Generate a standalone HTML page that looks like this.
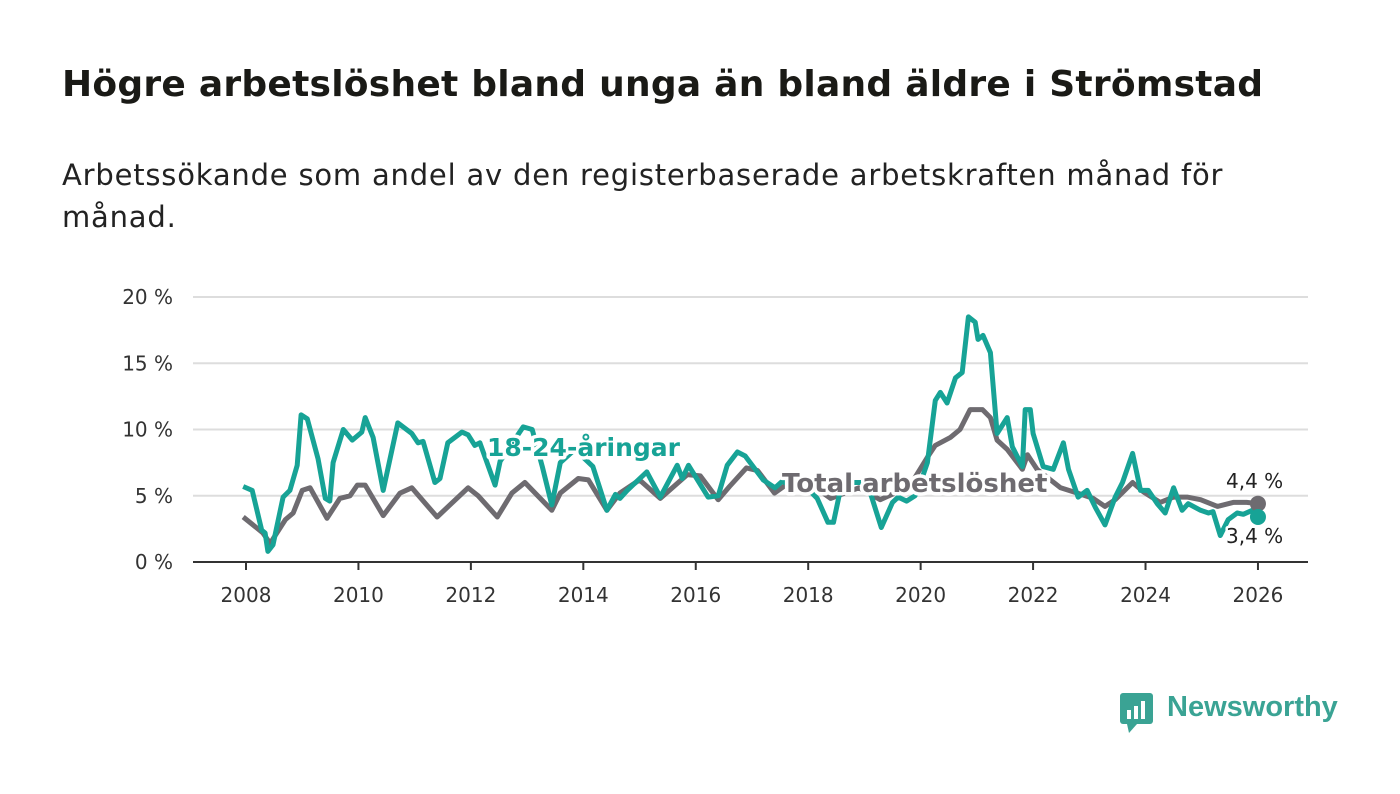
<!DOCTYPE html>
<html><head><meta charset="utf-8"><style>
body{margin:0;background:#fff;width:1400px;height:794px;overflow:hidden;font-family:"DejaVu Sans","Liberation Sans",sans-serif}
.t{position:absolute;left:62px;top:64px;font-size:36px;font-weight:bold;color:#1a1a16;margin:0;white-space:nowrap;letter-spacing:0.25px}
.s{position:absolute;left:62px;top:154px;font-size:29px;line-height:42px;color:#222;width:1300px;margin:0;white-space:nowrap;letter-spacing:0.8px}
</style></head><body>
<h1 class="t">Högre arbetslöshet bland unga än bland äldre i Strömstad</h1>
<p class="s">Arbetssökande som andel av den registerbaserade arbetskraften månad för<br>månad.</p>
<svg id="c" width="1400" height="794" style="position:absolute;left:0;top:0"></svg>
<script>
const yTicks=[0,5,10,15,20];
const xTicks=[2008,2010,2012,2014,2016,2018,2020,2022,2024,2026];
const youthDates=[2007.95,2008.11,2008.28,2008.34,2008.39,2008.48,2008.66,2008.78,2008.91,2008.98,2009.09,2009.28,2009.41,2009.49,2009.55,2009.73,2009.89,2010.06,2010.12,2010.26,2010.44,2010.7,2010.95,2011.06,2011.15,2011.36,2011.45,2011.59,2011.84,2011.95,2012.07,2012.16,2012.43,2012.52,2012.93,2013.09,2013.27,2013.44,2013.59,2013.85,2014.17,2014.42,2014.57,2014.65,2014.78,2015.13,2015.37,2015.67,2015.76,2015.87,2016.22,2016.4,2016.56,2016.74,2016.88,2017.2,2017.41,2017.54,2017.8,2018.0,2018.16,2018.35,2018.45,2018.6,2019.0,2019.1,2019.3,2019.5,2019.6,2019.75,2019.9,2020.0,2020.12,2020.26,2020.35,2020.47,2020.62,2020.74,2020.85,2020.97,2021.02,2021.11,2021.24,2021.36,2021.54,2021.63,2021.81,2021.86,2021.95,2022.0,2022.18,2022.36,2022.54,2022.63,2022.8,2022.96,2023.11,2023.28,2023.46,2023.59,2023.77,2023.91,2024.05,2024.21,2024.35,2024.5,2024.65,2024.76,2024.98,2025.12,2025.2,2025.33,2025.47,2025.63,2025.74,2025.9,2026.0];
const youthValues=[5.7,5.4,2.4,2.2,0.8,1.3,4.9,5.4,7.3,11.1,10.8,7.8,4.8,4.6,7.5,10.0,9.2,9.8,10.9,9.4,5.4,10.5,9.7,9.0,9.1,6.0,6.3,9.0,9.8,9.6,8.8,9.0,5.8,7.6,10.2,10.0,7.2,4.3,7.5,8.5,7.2,3.9,5.1,4.8,5.4,6.8,4.9,7.3,6.3,7.3,4.9,5.0,7.3,8.3,8.0,6.2,5.6,6.1,5.5,5.5,4.8,3.0,3.0,6.0,6.0,5.3,2.6,4.5,4.9,4.6,5.0,6.0,7.5,12.2,12.8,12.0,13.9,14.3,18.5,18.1,16.8,17.1,15.8,9.7,10.9,8.7,7.2,11.5,11.5,9.7,7.2,7.0,9.0,7.0,4.9,5.4,4.1,2.8,4.9,6.0,8.2,5.4,5.4,4.4,3.7,5.6,3.9,4.4,3.9,3.7,3.8,2.0,3.2,3.7,3.6,3.9,3.4];
const totalDates=[2007.95,2008.3,2008.43,2008.52,2008.7,2008.84,2009.0,2009.14,2009.44,2009.67,2009.85,2009.98,2010.12,2010.44,2010.74,2010.95,2011.4,2011.75,2011.95,2012.13,2012.47,2012.73,2012.96,2013.44,2013.59,2013.91,2014.09,2014.42,2014.65,2015.0,2015.37,2015.85,2016.08,2016.4,2016.6,2016.9,2017.1,2017.4,2017.6,2018.0,2018.4,2018.9,2019.28,2019.8,2020.12,2020.26,2020.53,2020.7,2020.88,2021.1,2021.24,2021.36,2021.54,2021.81,2021.9,2022.07,2022.49,2022.79,2023.07,2023.28,2023.46,2023.77,2023.96,2024.26,2024.5,2024.74,2024.98,2025.28,2025.56,2025.8,2026.0];
const totalValues=[3.4,2.2,1.4,2.0,3.2,3.7,5.4,5.6,3.3,4.8,5.0,5.8,5.8,3.5,5.2,5.6,3.4,4.8,5.6,5.0,3.4,5.2,6.0,3.9,5.2,6.3,6.2,3.9,5.2,6.2,4.8,6.6,6.5,4.7,5.7,7.1,6.9,5.2,5.8,6.0,4.8,5.6,4.7,5.7,7.9,8.8,9.4,10.0,11.5,11.5,10.9,9.2,8.5,7.0,8.1,7.0,5.6,5.2,4.8,4.2,4.7,6.0,5.3,4.5,4.9,4.9,4.7,4.2,4.5,4.5,4.4];
const NS='http://www.w3.org/2000/svg';
const svg=document.getElementById('c');
const X=y=>246+(y-2008)*56.22;
const Y=v=>562-v*13.25;
function el(t,a,p){const e=document.createElementNS(NS,t);for(const k in a)e.setAttribute(k,a[k]);(p||svg).appendChild(e);return e;}
yTicks.forEach(v=>{
 const g=el('line',{x1:193,x2:1308,y1:Y(v),y2:Y(v),stroke:'#ddd','stroke-width':2});
 
 
 const t=el('text',{x:173,y:Y(v)+7,'text-anchor':'end','font-size':20,fill:'#333'});
 t.textContent=v+' %';
 
 
});
const ax=el('line',{x1:193,x2:1308,y1:562,y2:562,stroke:'#333','stroke-width':2});


xTicks.forEach(v=>{
 const tk=el('line',{x1:X(v),x2:X(v),y1:562,y2:570,stroke:'#333','stroke-width':2});
 
 
 const t=el('text',{x:X(v),y:602,'text-anchor':'middle','font-size':20,fill:'#333'});
 t.textContent=v;
 
 
});
function line(d,v,c,name){
 const p=el('path',{d:d.map((x,i)=>(i?'L':'M')+X(x).toFixed(1)+','+Y(v[i]).toFixed(1)).join(''),fill:'none',stroke:c,'stroke-width':5,'stroke-linejoin':'round'});
 
 
}
line(totalDates,totalValues,'#6e6b70','total-line');
line(youthDates,youthValues,'#17a396','youth-line');
function lab(txt,x,y,c,size,name,bold){
 const t=el('text',{x:x,y:y,fill:c,'font-size':size,'font-weight':bold?'bold':'normal',stroke:'#fff','stroke-width':bold?7:5,'paint-order':'stroke','stroke-linejoin':'round'});
 t.textContent=txt;
 
 
}
lab('18-24-åringar',487,456,'#17a396',25,'youth-series-label',true);
lab('Total arbetslöshet',782,492,'#6e6b70',26,'total-series-label',true);
const tl=totalValues.length-1, yl=youthValues.length-1;
const d1=el('circle',{cx:X(totalDates[tl]),cy:Y(totalValues[tl]),r:8,fill:'#6e6b70'});


const d2=el('circle',{cx:X(youthDates[yl]),cy:Y(youthValues[yl]),r:8,fill:'#17a396'});


lab(String(totalValues[tl]).replace('.',',')+' %',1226,488,'#222',20,'total-end-label',false);
lab(String(youthValues[yl]).replace('.',',')+' %',1226,543,'#222',20,'youth-end-label',false);
</script>
<div style="position:absolute;left:1119px;top:692px;">
<svg width="36" height="42" style="position:absolute;left:0;top:0"><rect x="1" y="1" width="33" height="31" rx="3" fill="#3aa394"/><polygon points="8,32 18,32 10,41" fill="#3aa394"/><rect x="8" y="18" width="4" height="9" fill="#fff"/><rect x="15" y="14" width="4" height="13" fill="#fff"/><rect x="22" y="9" width="4" height="18" fill="#fff"/></svg>
<div style="position:absolute;left:48px;top:-1px;font-size:29px;font-weight:bold;color:#3aa394;white-space:nowrap;font-family:'Liberation Sans',sans-serif">Newsworthy</div>
</div>
</body></html>
